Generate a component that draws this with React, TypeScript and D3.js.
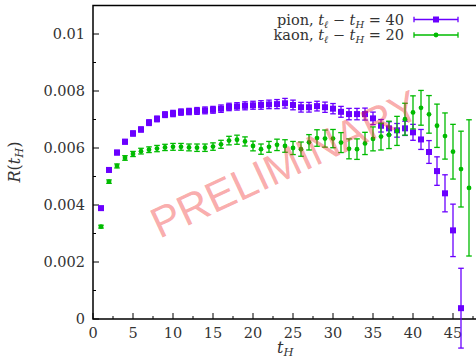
import React from "react";
import * as d3 from "d3";

const pionT = [1,2,3,4,5,6,7,8,9,10,11,12,13,14,15,16,17,18,19,20,21,22,23,24,25,26,27,28,29,30,31,32,33,34,35,36,37,38,39,40,41,42,43,44,45,46];
const pionR = [3.89,5.23,5.84,6.22,6.51,6.65,6.89,7.02,7.17,7.21,7.26,7.28,7.30,7.32,7.34,7.38,7.44,7.46,7.48,7.50,7.51,7.53,7.54,7.57,7.51,7.43,7.43,7.47,7.43,7.38,7.27,7.19,7.19,7.19,7.04,6.78,6.69,6.62,6.69,6.55,6.30,5.86,5.19,4.41,3.11,0.38];
const pionErr = [0.06,0.07,0.08,0.08,0.09,0.09,0.1,0.1,0.1,0.11,0.11,0.11,0.12,0.12,0.12,0.13,0.13,0.13,0.14,0.14,0.15,0.15,0.16,0.17,0.17,0.17,0.17,0.17,0.18,0.18,0.19,0.2,0.2,0.21,0.22,0.22,0.23,0.24,0.25,0.28,0.35,0.4,0.5,0.65,0.92,1.4];

const kaonT = [1,2,3,4,5,6,7,8,9,10,11,12,13,14,15,16,17,18,19,20,21,22,23,24,25,26,27,28,29,30,31,32,33,34,35,36,37,38,39,40,41,42,43,44,45,46,47];
const kaonR = [3.24,4.82,5.37,5.65,5.79,5.89,5.94,5.98,6.02,6.04,6.04,6.02,6.01,6.01,6.05,6.13,6.26,6.29,6.23,6.07,5.96,6.04,6.11,6.07,6.00,5.96,6.20,6.35,6.33,6.33,6.19,5.97,5.96,6.16,6.32,6.40,6.46,6.60,7.01,7.25,7.41,7.18,6.78,6.42,5.87,5.26,4.60];
const kaonErr = [0.05,0.06,0.07,0.08,0.09,0.1,0.1,0.11,0.11,0.12,0.12,0.12,0.13,0.13,0.13,0.14,0.15,0.16,0.16,0.17,0.18,0.19,0.2,0.22,0.23,0.25,0.27,0.29,0.3,0.32,0.35,0.35,0.36,0.39,0.42,0.47,0.48,0.51,0.56,0.58,0.61,0.66,0.76,0.81,0.96,1.33,2.39];

const xMajor = [0,5,10,15,20,25,30,35,40,45];
const yMajor = [0,0.002,0.004,0.006,0.008,0.01];
const yLabels = ["0","0.002","0.004","0.006","0.008","0.01"];

const PION = "#6a00ff";
const KAON = "#00bb00";
const SERIF = "DejaVu Serif";
const SANS = "Liberation Sans";

export default function App() {
  const W = 476, H = 360;
  const x = d3.scaleLinear().domain([0, 48]).range([93, 477]);
  const y = d3.scaleLinear().domain([0, 0.011]).range([319, 5.5]);
  const xMinor = d3.range(0, 48.01, 2.5).filter((v) => !xMajor.includes(v));
  const yMinor = d3.range(0.001, 0.0111, 0.002);
  const cap = 2.8;

  const errBars = (ts: number[], vs: number[], es: number[], color: string) =>
    ts.map((t, i) => {
      const cx = x(t);
      const y1 = y((vs[i] + es[i]) / 1000);
      const y2 = y((vs[i] - es[i]) / 1000);
      return (
        <g key={"e" + i} stroke={color} strokeWidth={1.3}>
          <line x1={cx} x2={cx} y1={y1} y2={y2} />
          <line x1={cx - cap} x2={cx + cap} y1={y1} y2={y1} />
          <line x1={cx - cap} x2={cx + cap} y1={y2} y2={y2} />
        </g>
      );
    });

  const legendRow = (yy: number, color: string, label: string, val: string, square: boolean) => (
    <g>
      <text x={404} y={yy + 5} textAnchor="end" fontFamily={SERIF} fontSize={14.5} fill="#333">
        {label}
        <tspan fontStyle="italic">t</tspan>
        <tspan fontStyle="italic" fontSize={10} dy={3}>ℓ</tspan>
        <tspan dy={-3}> − </tspan>
        <tspan fontStyle="italic">t</tspan>
        <tspan fontStyle="italic" fontSize={10} dy={3}>H</tspan>
        <tspan dy={-3}> = {val}</tspan>
      </text>
      <g stroke={color} strokeWidth={1.3}>
        <line x1={414} x2={458} y1={yy} y2={yy} />
        <line x1={414} x2={414} y1={yy - cap} y2={yy + cap} />
        <line x1={458} x2={458} y1={yy - cap} y2={yy + cap} />
      </g>
      {square ? (
        <rect x={436 - 3} y={yy - 3} width={6} height={6} fill={color} />
      ) : (
        <circle cx={436} cy={yy} r={2.4} fill={color} />
      )}
    </g>
  );

  return (
    <svg width={W} height={H} style={{ position: "absolute", left: 0, top: 0, background: "#fff" }}>
      <rect x={0} y={0} width={W} height={H} fill="#fff" />
      {/* ticks */}
      <g stroke="#000" strokeWidth={1}>
        {xMajor.map((v) => (
          <line key={"xM" + v} x1={x(v)} x2={x(v)} y1={319} y2={313} />
        ))}
        {xMinor.map((v) => (
          <line key={"xm" + v} x1={x(v)} x2={x(v)} y1={319} y2={316} />
        ))}
        {yMajor.map((v) => (
          <line key={"yM" + v} x1={93} x2={99} y1={y(v)} y2={y(v)} />
        ))}
        {yMinor.map((v) => (
          <line key={"ym" + v} x1={93} x2={96} y1={y(v)} y2={y(v)} />
        ))}
      </g>
      {/* frame */}
      <path d={`M477,${y(0.011)} H${x(0)} V319 H477`} fill="none" stroke="#000" strokeWidth={1.5} />
      {/* tick labels */}
      <g fontFamily={SERIF} fontSize={14.5} fill="#333">
        {xMajor.map((v) => (
          <text key={"xl" + v} x={x(v)} y={338} textAnchor="middle">{v}</text>
        ))}
        {yMajor.map((v, i) => (
          <text key={"yl" + v} x={85} y={y(v) + 5} textAnchor="end">{yLabels[i]}</text>
        ))}
      </g>
      {/* axis labels */}
      <text x={277} y={353} fontFamily={SERIF} fontSize={16} fill="#333">
        <tspan fontStyle="italic">t</tspan>
        <tspan fontStyle="italic" fontSize={11.5} dy={3}>H</tspan>
      </text>
      <text transform="translate(20,162) rotate(-90)" textAnchor="middle" fontFamily={SERIF} fontSize={16} fill="#333">
        <tspan fontStyle="italic">R</tspan>
        <tspan>(</tspan>
        <tspan fontStyle="italic">t</tspan>
        <tspan fontStyle="italic" fontSize={11.5} dy={3}>H</tspan>
        <tspan dy={-3}>)</tspan>
      </text>
      {/* data */}
      <g>{errBars(pionT, pionR, pionErr, PION)}</g>
      <g>
        {pionT.map((t, i) => (
          <rect key={"p" + i} x={x(t) - 3} y={y(pionR[i] / 1000) - 3} width={6} height={6} fill={PION} />
        ))}
      </g>
      <g>{errBars(kaonT, kaonR, kaonErr, KAON)}</g>
      <g>
        {kaonT.map((t, i) => (
          <circle key={"k" + i} cx={x(t)} cy={y(kaonR[i] / 1000)} r={2.4} fill={KAON} />
        ))}
      </g>
      {/* legend */}
      {legendRow(19.5, PION, "pion, ", "40", true)}
      {legendRow(35, KAON, "kaon, ", "20", false)}
      {/* watermark */}
      <text
        transform="translate(285,164) rotate(-25)"
        textAnchor="middle"
        dominantBaseline="central"
        fontFamily={SANS}
        fontSize={43}
        fill="rgb(240,40,40)"
        fillOpacity={0.4}
      >
        PRELIMINARY
      </text>
    </svg>
  );
}
